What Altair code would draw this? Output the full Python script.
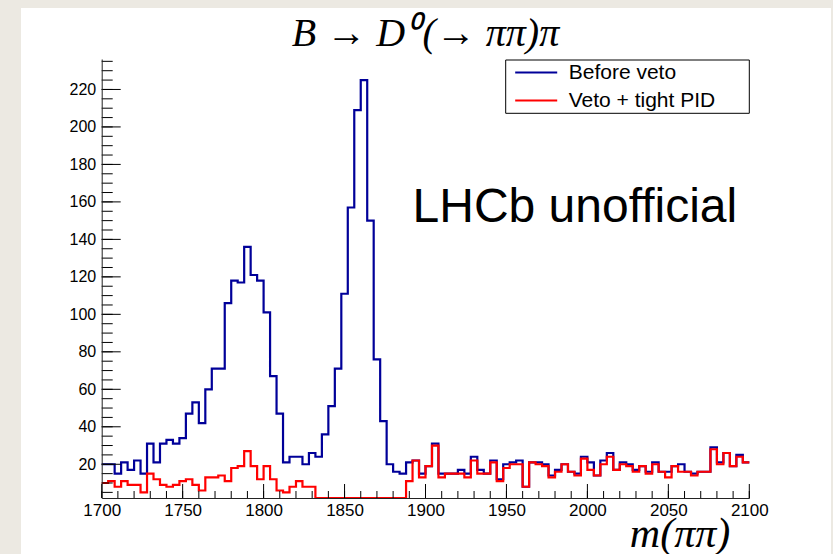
import altair as alt
import numpy as np
import pandas as pd

# ---------------- data ----------------
SERIES = ["Before veto", "Veto + tight PID"]

BEFORE_VETO = [
    20, 20, 15, 21, 17, 22, 15, 31, 21, 31,
    33, 31, 34, 47, 53, 42, 60, 71, 71, 106,
    118, 117, 136, 121, 118, 101, 67, 47, 21, 24,
    24, 20, 26, 24, 36, 51, 71, 111, 157, 209,
    225, 150, 76, 43, 20, 16, 15, 21, 22, 15,
    19, 31, 15, 15, 15, 17, 15, 24, 17, 15,
    22, 12, 20, 21, 22, 8, 21, 21, 20, 14,
    17, 20, 16, 15, 24, 21, 14, 22, 26, 17,
    21, 20, 17, 19, 16, 21, 16, 16, 19, 20,
    16, 15, 16, 16, 29, 21, 26, 19, 25, 21,
]

VETO_TIGHT_PID = [
    10, 11, 8, 11, 9, 9, 5, 15, 12, 9,
    8, 9, 11, 12, 9, 6, 13, 13, 14, 11,
    18, 19, 27, 19, 12, 19, 12, 6, 5, 8,
    11, 8, 8, 0, 0, 0, 0, 0, 0, 0,
    0, 0, 0, 0, 0, 0, 0, 11, 22, 13,
    19, 30, 13, 15, 15, 15, 13, 22, 15, 15,
    21, 11, 18, 20, 20, 8, 21, 20, 19, 13,
    16, 20, 16, 14, 23, 17, 14, 20, 24, 17,
    20, 19, 16, 19, 15, 20, 16, 13, 19, 16,
    16, 14, 16, 16, 28, 20, 26, 19, 24, 21,
]

X_RANGE = [1700, 2100]
Y_RANGE = [2, 236.25]
X_TICK_LABELS = [1700, 1750, 1800, 1850, 1900, 1950, 2000, 2050, 2100]
Y_TICK_LABELS = [20, 40, 60, 80, 100, 120, 140, 160, 180, 200, 220]
X_MINOR_STEP = 10
Y_MINOR_STEP = 5

TITLE = ["B \u2192 D\u2070\u200a(\u2192 \u03c0\u03c0)\u03c0"]
X_TITLE = "m(\u03c0\u03c0)"
NOTE = ["LHCb unofficial"]
NOTE_M = [1892]
NOTE_N = [149.5]

# ---------------- tables ----------------
edges = np.linspace(X_RANGE[0], X_RANGE[1], len(BEFORE_VETO) + 1)


def step_table(counts, name):
    vals = list(counts) + [counts[-1]]
    return pd.DataFrame({"m": edges, "n": vals, "series": name})


hist = pd.concat([step_table(BEFORE_VETO, SERIES[0]),
                  step_table(VETO_TIGHT_PID, SERIES[1])], ignore_index=True)

x_major = pd.DataFrame({"m": X_TICK_LABELS})
x_minor = pd.DataFrame({"m": list(range(X_RANGE[0], X_RANGE[1] + 1, X_MINOR_STEP))})
y_major = pd.DataFrame({"n": Y_TICK_LABELS})
y_minor = pd.DataFrame({"n": list(range(5, int(Y_RANGE[1]) + 1, Y_MINOR_STEP))})
note = pd.DataFrame({"m": NOTE_M, "n": NOTE_N, "t": NOTE})
title_df = pd.DataFrame({"t": TITLE})

# ---------------- layout ----------------
W, H = 647.6, 439
LEFT, TOP = 101.7, 59
PANEL_LEFT, PANEL_TOP, PANEL_RIGHT = 21, 8, 831

xs = alt.Scale(domain=X_RANGE, nice=False, zero=False)
ys = alt.Scale(domain=Y_RANGE, nice=False, zero=False, clamp=True)
cs = alt.Scale(domain=SERIES, range=["#000099", "#ff0000"])

legend = alt.Legend(
    title=None, orient="none", legendX=404, legendY=0, padding=3,
    symbolType="M-5,0H5", symbolSize=70.6, symbolStrokeWidth=2,
    symbolOffset=17, labelOffset=22, rowPadding=6,
    labelFont="Liberation Sans", labelFontSize=21, labelColor="black",
    labelLimit=400,
)

x_axis = alt.Axis(
    values=X_TICK_LABELS, format="d", ticks=False, grid=False, labelFlush=False, zindex=1,
    labelPadding=4, labelFontSize=17, labelFont="Liberation Sans", labelColor="black",
    domainColor="#222", title=X_TITLE, titleFont="Liberation Serif",
    titleFontStyle="italic", titleFontWeight="normal", titleFontSize=42,
    titleColor="black", titleAlign="right", titleBaseline="alphabetic",
    titleX=628, titleY=48,
)
y_axis = alt.Axis(
    values=Y_TICK_LABELS, format="d", ticks=False, grid=False, zindex=1,
    labelPadding=6, labelFontSize=16, labelFont="Liberation Sans", labelColor="black",
    domainColor="#222", title=None,
)
X = lambda f: alt.X(f, scale=xs, axis=x_axis)
Y = lambda f: alt.Y(f, scale=ys, axis=y_axis)

# white slide panel behind the pad, and the legend frame
one = pd.DataFrame({"a": [0]})
panel = alt.Chart(one).mark_rect(color="white").encode(
    x=alt.value(PANEL_LEFT - LEFT), x2=alt.value(PANEL_RIGHT - LEFT),
    y=alt.value(PANEL_TOP - TOP), y2=alt.value(554 - TOP),
)
legend_frame = alt.Chart(one).mark_rect(fill="white", stroke="black", strokeWidth=1).encode(
    x=alt.value(404), x2=alt.value(W), y=alt.value(1), y2=alt.value(54.3),
)

base = alt.Chart(hist)
blue = base.transform_filter(alt.datum.series == SERIES[0]).mark_line(
    interpolate="step-after", strokeWidth=2.2
).encode(x=X("m:Q"), y=Y("n:Q"),
         color=alt.Color("series:N", scale=cs, legend=legend))
red = base.transform_filter(alt.datum.series == SERIES[1]).mark_line(
    interpolate="step-after", strokeWidth=2.2
).encode(x=X("m:Q"), y=Y("n:Q"),
         color=alt.Color("series:N", scale=cs, legend=legend))

tick_y_major = alt.Chart(y_major).mark_rule(color="black", strokeWidth=1).encode(
    y=Y("n:Q"), x=alt.value(0), x2=alt.value(19))
tick_y_minor = alt.Chart(y_minor).mark_rule(color="black", strokeWidth=1).encode(
    y=Y("n:Q"), x=alt.value(0), x2=alt.value(11))
tick_x_major = alt.Chart(x_major).mark_rule(color="black", strokeWidth=1).encode(
    x=X("m:Q"), y=alt.value(H), y2=alt.value(H - 14))
tick_x_minor = alt.Chart(x_minor).mark_rule(color="black", strokeWidth=1).encode(
    x=X("m:Q"), y=alt.value(H), y2=alt.value(H - 7))

note_text = alt.Chart(note).mark_text(
    align="left", baseline="alphabetic", font="Liberation Sans", fontSize=48, color="black"
).encode(x=X("m:Q"), y=Y("n:Q"), text="t:N")

title_text = alt.Chart(title_df).mark_text(
    align="center", baseline="alphabetic", font="Liberation Serif",
    fontStyle="italic", fontSize=40, color="black"
).encode(x=alt.value(W / 2), y=alt.value(-13), text="t:N")

chart = alt.layer(
    panel, legend_frame, blue, red,
    tick_y_minor, tick_y_major, tick_x_minor, tick_x_major, note_text, title_text
).properties(
    width=W, height=H,
    autosize="none",
    padding={"left": LEFT, "top": TOP, "right": 833 - LEFT - W, "bottom": 554 - TOP - H},
    background="#ECE9E2",
).configure_view(stroke="#777", strokeWidth=1)

chart.save("out.html", embed_options={"renderer": "svg", "actions": False})
